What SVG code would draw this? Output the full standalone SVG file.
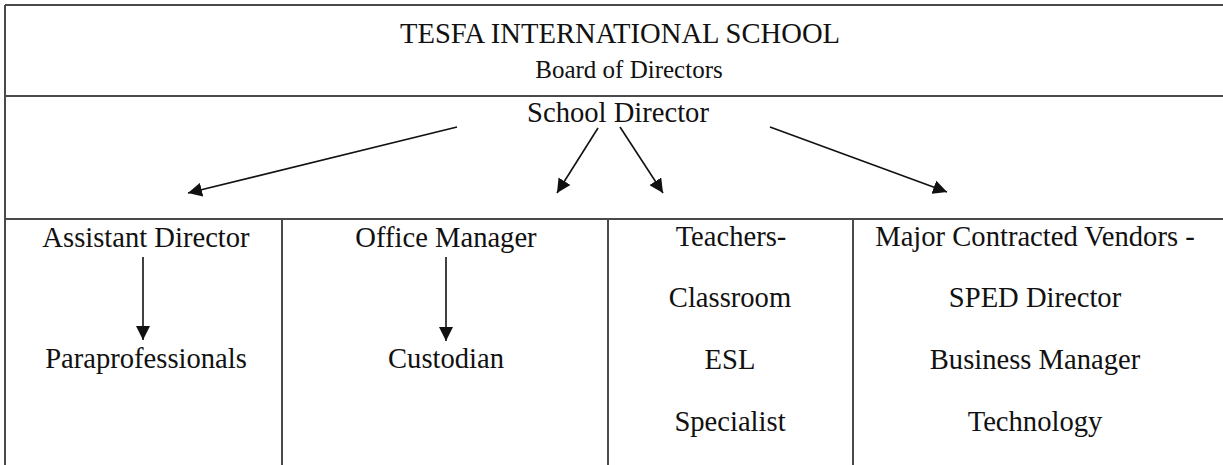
<svg xmlns="http://www.w3.org/2000/svg" width="1223" height="465" viewBox="0 0 1223 465">
  <style>
    .frame { stroke: #4a4a4a; stroke-width: 2; fill: none; }
    .lbl { font-family: "Liberation Serif", "Times New Roman", serif; font-size: 28.6px; fill: #111; text-anchor: middle; }
    .sub { font-size: 25px; }
    .edge { stroke: #111; stroke-width: 1.6; fill: none; marker-end: url(#head); }
  </style>
  <defs>
    <marker id="head" viewBox="0 0 10 10" refX="10" refY="5" markerUnits="userSpaceOnUse" markerWidth="14" markerHeight="14" orient="auto">
      <path d="M0,0 L10,5 L0,10 Z" fill="#111"/>
    </marker>
  </defs>
  <rect width="1223" height="465" fill="#fff"/>

  <!-- table frame -->
  <g id="frame">
    <line class="frame" x1="5" y1="5" x2="1223" y2="5"/>
    <line class="frame" x1="5" y1="5" x2="5" y2="465"/>
    <line class="frame" x1="5" y1="96" x2="1223" y2="96"/>
    <line class="frame" x1="5" y1="219" x2="1223" y2="219"/>
    <line class="frame" x1="282" y1="219" x2="282" y2="465"/>
    <line class="frame" x1="608" y1="219" x2="608" y2="465"/>
    <line class="frame" x1="853" y1="219" x2="853" y2="465"/>
  </g>

  <g id="board">
    <text class="lbl" x="620" y="43">TESFA INTERNATIONAL SCHOOL</text>
    <text class="lbl sub" x="629" y="78">Board of Directors</text>
  </g>

  <g id="school-director">
    <text class="lbl" x="618" y="122">School Director</text>
  </g>

  <g id="assistant-director">
    <text class="lbl" x="146" y="247">Assistant Director</text>
  </g>
  <g id="paraprofessionals">
    <text class="lbl" x="146" y="368">Paraprofessionals</text>
  </g>

  <g id="office-manager">
    <text class="lbl" x="446" y="247">Office Manager</text>
  </g>
  <g id="custodian">
    <text class="lbl" x="446" y="368">Custodian</text>
  </g>

  <g id="teachers">
    <text class="lbl" x="731" y="246">Teachers-</text>
    <text class="lbl" x="730" y="307">Classroom</text>
    <text class="lbl" x="730" y="369">ESL</text>
    <text class="lbl" x="730" y="431">Specialist</text>
  </g>

  <g id="vendors">
    <text class="lbl" x="1035" y="246">Major Contracted Vendors -</text>
    <text class="lbl" x="1035" y="307">SPED Director</text>
    <text class="lbl" x="1035" y="369">Business Manager</text>
    <text class="lbl" x="1035" y="431">Technology</text>
  </g>

  <!-- reporting lines -->
  <g id="connectors">
    <line class="edge" x1="457" y1="127" x2="188" y2="193"/>
    <line class="edge" x1="598" y1="128" x2="557" y2="193"/>
    <line class="edge" x1="620" y1="127" x2="663" y2="193"/>
    <line class="edge" x1="770" y1="127" x2="947" y2="192"/>
    <line class="edge" x1="143" y1="257" x2="143" y2="340"/>
    <line class="edge" x1="446" y1="257" x2="446" y2="341"/>
  </g>
</svg>
